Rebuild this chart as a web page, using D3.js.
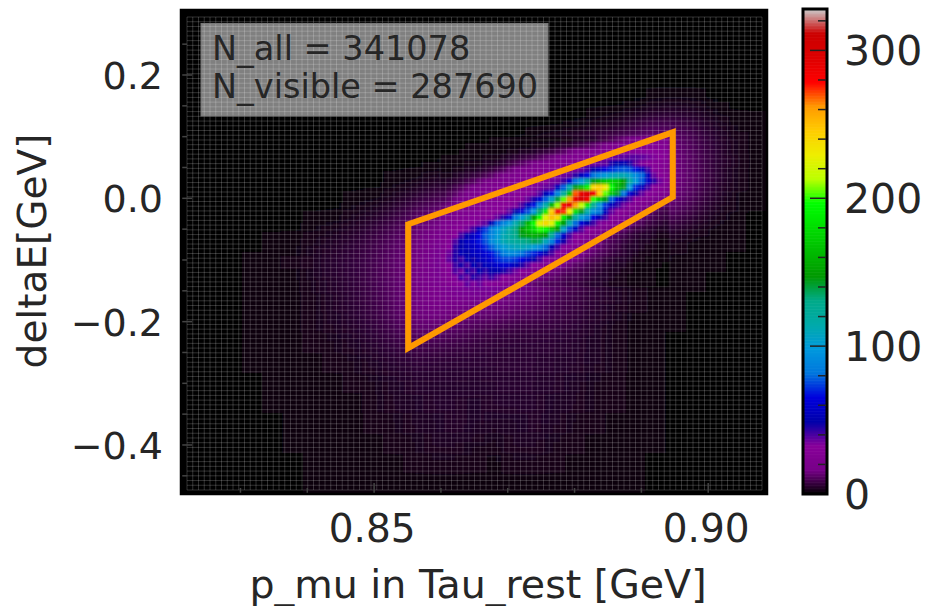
<!DOCTYPE html>
<html><head><meta charset="utf-8">
<style>html,body{margin:0;padding:0;background:#fff}svg{display:block}text{font-family:"DejaVu Sans",sans-serif;fill:#262626}</style>
<script src="https://cdn.jsdelivr.net/npm/d3@7/dist/d3.min.js"></script>
</head><body><svg id="c" width="926" height="606"></svg>
<script>
const xTicks=[0.85,0.90], yTicks=[0.2,0,-0.2,-0.4], cbTicks=[0,100,200,300];
const xTickLabels=["0.85","0.90"], yTickLabels=["0.2","0.0","\u22120.2","\u22120.4"];
const xDomain=[0.8211,0.9088], yDomain=[-0.4795,0.3054], cbDomain=[0,328];
const statsLines=["N_all = 341078","N_visible = 287690"];
const regionX=[0.8551,0.8947,0.8947,0.8551];
const regionY=[-0.042,0.107,0.002,-0.243];
const nipyStops=[0,.05,.1,.15,.2,.25,.3,.35,.4,.45,.5,.55,.6,.65,.7,.75,.8,.85,.9,.95,1];
const nipyColors=["#000000","#770088","#880099","#0000aa","#0000dd","#0077dd","#0099dd","#00aaaa","#00aa88","#009900","#00bb00","#00dd00","#00ff00","#bbff00","#eeee00","#ffcc00","#ff9900","#ff0000","#dd0000","#cc0000","#cccccc"];
// wide histogram read on a coarse binning (counts)
const wideCounts=[
[0,0,0,0,0,0,0,0,0,0,0,0,0,0,0,0,0,0,0,0,0,0,0,0,0,0,0,0,0],
[0,0,0,0,0,0,0,0,0,0,0,0,0,0,0,0,0,0,0,0,0,0,0,0,0,0,0,0,0],
[0,0,0,0,0,0,0,0,0,0,0,0,0,0,0,0,0,0,0,0,0,0,0,0,0,0,0,0,0],
[0,0,0,0,0,0,0,0,0,0,0,0,0,0,0,0,0,0,0,0,0,0,0,0,0,0,0,0,0],
[0,0,0,0,0,0,0,0,0,0,0,0,0,0,0,0,0,0,0,0,0,0,0,1,1,1,0,0,0],
[0,0,0,0,0,0,0,0,0,0,0,0,0,0,0,0,0,0,0,0,1,2,3,5,6,5,3,2,1],
[0,0,0,0,0,0,0,0,0,0,0,0,0,0,0,0,0,1,2,3,5,8,12,16,14,9,5,3,1],
[0,0,0,0,0,0,0,0,0,0,0,0,0,1,2,3,4,6,10,14,20,28,35,28,15,10,6,3,2],
[0,0,0,0,0,0,0,0,0,0,1,2,3,4,6,9,14,20,30,35,45,60,50,30,16,10,5,3,1],
[0,0,0,0,0,0,0,0,1,2,3,5,8,11,16,22,30,50,90,200,100,50,30,20,14,8,4,2,1],
[0,0,0,0,0,0,1,2,3,5,7,12,17,22,35,65,110,180,120,45,25,18,12,7,5,3,2,1,0],
[0,0,0,0,1,2,3,4,6,8,11,15,19,32,58,85,115,85,40,24,15,9,6,4,3,2,1,1,0],
[0,0,0,1,2,3,4,6,7,9,12,16,21,40,50,60,70,30,20,15,9,5,3,2,2,1,1,0,0],
[0,0,0,1,1,2,3,5,6,9,12,16,20,28,36,30,22,15,10,8,6,4,3,2,1,1,0,0,0],
[0,0,0,1,1,2,3,4,6,8,11,16,20,22,22,20,15,12,10,8,6,4,3,2,1,0,0,0,0],
[0,0,0,1,1,2,3,4,5,7,9,14,15,13,10,8,7,7,7,6,4,3,2,1,1,0,0,0,0],
[0,0,0,1,1,2,3,3,4,5,7,9,8,7,7,6,6,6,6,5,4,3,2,1,0,0,0,0,0],
[0,0,0,1,1,2,2,3,3,4,5,6,6,6,6,6,6,6,5,5,4,3,2,1,0,0,0,0,0],
[0,0,0,0,1,1,2,2,3,3,4,5,5,5,5,5,6,5,5,4,3,3,2,1,0,0,0,0,0],
[0,0,0,0,1,1,2,2,2,3,4,4,5,5,4,5,5,5,4,4,3,3,2,1,0,0,0,0,0],
[0,0,0,0,0,1,1,2,2,3,3,4,4,5,5,4,4,5,4,3,3,2,1,1,0,0,0,0,0],
[0,0,0,0,0,1,1,2,2,2,3,3,4,4,3,3,4,4,3,3,2,2,1,1,0,0,0,0,0],
[0,0,0,0,0,0,1,1,2,2,2,3,3,3,3,2,3,3,3,2,2,1,1,0,0,0,0,0,0],
[0,0,0,0,0,0,1,1,1,1,2,2,2,2,2,2,2,2,2,2,1,1,1,0,0,0,0,0,0]];
// core of the histogram read on a finer binning (counts)
const coreX0=0.8599, coreXStep=0.0009, coreY0=0.1005, coreYStep=0.00973;
const coreCounts=[
[0,0,0,0,0,0,0,0,1,1,1,1,1,1,1,1,2,2,2,2,3,3,4,4,5,5,7,8,10,12,14,16,18,20,21,22,22,22],
[0,0,0,0,1,1,1,1,1,1,2,2,2,2,2,3,3,3,4,5,6,6,8,9,11,13,15,17,20,22,24,25,26,26,27,27,26,25],
[0,0,0,1,1,1,1,2,2,2,2,3,3,4,4,5,6,7,8,10,12,15,17,19,22,24,26,28,30,31,32,32,33,33,33,32,30,28],
[1,1,1,1,2,2,2,3,3,3,4,5,6,7,8,9,11,13,15,18,21,23,25,27,29,31,33,35,36,37,38,39,39,38,36,34,32,28],
[1,1,2,2,3,3,3,4,4,5,6,8,10,12,14,17,20,22,25,27,28,30,32,33,34,36,37,38,46,50,52,46,38,34,32,30,28,26],
[2,2,3,3,4,4,5,6,7,9,11,14,17,20,22,24,26,27,28,30,32,34,35,37,42,50,58,66,72,76,78,76,68,55,42,33,28,24],
[3,3,4,5,6,7,8,10,12,15,17,20,22,25,26,27,29,31,32,34,36,38,44,55,68,82,92,100,108,112,112,105,92,80,55,37,30,26],
[4,5,6,7,9,11,14,16,18,21,23,25,27,28,30,31,32,33,35,36,42,60,82,100,125,145,160,170,175,170,150,120,100,78,58,44,36,28],
[6,7,9,11,14,17,19,22,24,26,28,29,31,32,33,34,35,37,38,55,78,115,145,165,190,240,245,230,195,165,145,100,70,55,42,33,28,24],
[8,10,12,15,18,21,23,25,27,28,29,30,31,32,33,34,39,52,68,88,120,165,270,290,295,285,245,205,170,142,82,60,48,38,31,27,23,20],
[10,12,15,18,21,23,25,27,28,29,30,31,31,32,37,46,60,78,105,140,205,260,290,300,285,200,170,145,78,60,47,40,33,28,24,21,18,15],
[13,15,18,21,23,25,27,29,30,31,32,33,34,40,53,68,85,115,160,210,285,290,260,215,185,125,95,72,55,44,36,30,26,22,18,15,13,11],
[15,18,20,22,24,27,29,30,31,32,33,38,50,62,75,95,135,185,245,285,275,230,180,145,115,92,82,55,38,32,27,22,19,16,13,11,9,8],
[17,20,22,24,27,29,30,32,33,37,45,60,82,100,120,150,195,225,250,240,190,150,120,100,85,65,52,42,33,27,23,19,16,13,11,9,8,7],
[19,21,24,27,30,33,35,38,52,78,88,100,115,135,160,195,225,240,225,190,150,115,80,62,50,42,34,28,24,20,17,14,12,10,8,7,6,5],
[20,23,27,30,35,42,55,72,85,98,108,118,132,150,165,180,200,195,170,148,105,75,55,40,32,27,23,19,16,14,12,10,8,7,6,5,4,4],
[21,24,32,42,50,57,66,78,88,100,112,120,130,145,152,158,155,148,125,80,58,41,33,28,24,20,17,14,12,10,9,7,6,5,5,4,3,3],
[22,28,40,50,56,60,68,76,90,102,112,118,122,128,132,138,135,110,88,70,48,36,30,25,21,18,15,12,10,9,7,6,5,4,4,3,2,2],
[23,33,44,50,54,57,62,70,78,90,100,106,110,112,108,100,92,80,52,42,33,28,24,21,18,15,13,11,9,8,6,5,5,4,3,3,2,1],
[24,36,45,52,50,56,58,62,68,76,86,92,90,82,76,70,62,52,41,33,28,24,21,18,15,13,11,10,8,7,6,5,4,3,3,2,1,1],
[25,38,46,42,52,48,55,58,62,70,74,75,72,66,58,50,42,34,28,24,21,18,16,14,12,10,9,7,6,5,5,4,3,3,2,1,1,1],
[25,33,42,47,40,52,46,54,56,60,62,60,54,46,39,33,28,24,21,18,16,14,12,11,9,8,7,6,5,4,4,3,2,2,1,1,1,0],
[24,30,40,36,46,41,50,44,50,50,47,42,36,31,27,24,21,17,15,14,12,11,10,9,8,7,6,5,4,4,3,3,2,2,1,1,0,0],
[23,27,34,42,37,45,42,38,43,38,32,28,25,22,20,18,15,14,13,12,10,9,9,8,7,6,5,5,4,3,3,2,2,1,1,1,0,0],
[22,25,28,30,38,34,37,30,29,27,24,22,19,17,15,13,12,11,10,10,9,8,8,7,6,5,5,4,3,3,3,2,2,1,1,1,0,0]];

const P={l:181,r:767,t:10,b:494};
const x=d3.scaleLinear().domain(xDomain).range([P.l,P.r]);
const y=d3.scaleLinear().domain(yDomain).range([P.b,P.t]);
const cb=d3.scaleLinear().domain(cbDomain).range([494,9]);
const color=d3.scaleLinear().domain(nipyStops.map(s=>s*cbDomain[1])).range(nipyColors).clamp(true);
const svg=d3.select("#c");
const defs=svg.append("defs");
defs.append("clipPath").attr("id","plot").append("rect").attr("x",P.l).attr("y",P.t).attr("width",P.r-P.l).attr("height",P.b-P.t);
const blurA=defs.append("filter").attr("id","bA").attr("x","-20%").attr("y","-20%").attr("width","140%").attr("height","140%");
blurA.append("feGaussianBlur").attr("stdDeviation",13);
const blurB=defs.append("filter").attr("id","bB").attr("x","-5%").attr("y","-5%").attr("width","110%").attr("height","110%");
blurB.append("feGaussianBlur").attr("stdDeviation",0.8);

const plot=svg.append("g").attr("clip-path","url(#plot)");
plot.append("rect").attr("x",P.l).attr("y",P.t).attr("width",P.r-P.l).attr("height",P.b-P.t).attr("fill","#000");
const wx=(xDomain[1]-xDomain[0])/wideCounts[0].length, wy=(yDomain[1]-yDomain[0])/wideCounts.length;
const wideCells=wideCounts.flatMap((row,j)=>row.map((v,i)=>({v,i,j})));
plot.append("g").attr("filter","url(#bA)").selectAll("rect").data(wideCells).join("rect")
 .attr("x",d=>x(xDomain[0]+d.i*wx)).attr("y",d=>y(yDomain[1]-d.j*wy))
 .attr("width",x(xDomain[0]+wx)-x(xDomain[0])+.5).attr("height",y(yDomain[1]-wy)-y(yDomain[1])+.5)
 .attr("fill",d=>color(d.v));
const coreCells=coreCounts.flatMap((row,j)=>row.map((v,i)=>({v,i,j})));
plot.append("g").attr("filter","url(#bB)").selectAll("rect").data(coreCells).join("rect")
 .attr("x",d=>x(coreX0+d.i*coreXStep)).attr("y",d=>y(coreY0-d.j*coreYStep))
 .attr("width",x(coreX0+coreXStep)-x(coreX0)+.4).attr("height",y(coreY0-coreYStep)-y(coreY0)+.4)
 .attr("fill",d=>color(d.v));

// bin-edge lines of the pcolormesh
const nEdges=100;
const gx0=x.invert(P.l+6), gx1=x.invert(P.r-5), gy0=y.invert(P.b-4), gy1=y.invert(P.t+7);
const gridG=plot.append("g").attr("stroke","#fff").attr("stroke-opacity",.19).attr("stroke-width",1);
d3.range(nEdges+1).forEach(k=>{
  const vx=gx0+(gx1-gx0)*k/nEdges, vy=gy0+(gy1-gy0)*k/nEdges;
  gridG.append("line").attr("x1",x(vx)).attr("x2",x(vx)).attr("y1",y(gy0)).attr("y2",y(gy1));
  gridG.append("line").attr("y1",y(vy)).attr("y2",y(vy)).attr("x1",x(gx0)).attr("x2",x(gx1));
});

// ticks inside the frame
const tg=plot.append("g").attr("stroke","#444").attr("stroke-width",1.5);
d3.range(0.83,0.905,0.01).forEach(v=>tg.append("line").attr("x1",x(v)).attr("x2",x(v)).attr("y1",P.b).attr("y2",P.b-(Math.abs(v*20-Math.round(v*20))<1e-6?11:6)));
d3.range(-0.45,0.30,0.05).forEach(v=>tg.append("line").attr("y1",y(v)).attr("y2",y(v)).attr("x1",P.l).attr("x2",P.l+(Math.abs(v*5-Math.round(v*5))<1e-6?11:6)));

// stats box
plot.append("rect").attr("x",201).attr("y",23.5).attr("width",347).attr("height",92.5)
 .attr("fill","#fff").attr("fill-opacity",.5).attr("stroke","#777").attr("stroke-width",1);
svg.append("g").selectAll("text").data(statsLines).join("text")
 .attr("x",212).attr("y",(d,i)=>60+i*38).attr("font-size",33.5).text(d=>d);

// selection region
svg.append("path").datum(regionX.map((v,i)=>[x(v),y(regionY[i])]))
 .attr("d",d3.line().curve(d3.curveLinearClosed)).attr("fill","none")
 .attr("stroke","#ff9900").attr("stroke-width",6).attr("stroke-linejoin","miter");

// frame
svg.append("rect").attr("x",P.l).attr("y",P.t).attr("width",P.r-P.l).attr("height",P.b-P.t).attr("fill","none").attr("stroke","#000").attr("stroke-width",2.5);

// axes
svg.append("g").selectAll("text").data(xTicks).join("text").attr("x",d=>x(d)-2).attr("y",542).attr("text-anchor","middle").attr("font-size",39).text((d,i)=>xTickLabels[i]);
svg.append("g").selectAll("text").data(yTicks).join("text").attr("x",163).attr("y",d=>y(d)+14).attr("text-anchor","end").attr("font-size",38).text((d,i)=>yTickLabels[i]);
svg.append("text").attr("x",478).attr("y",598).attr("text-anchor","middle").attr("font-size",39.5).text("p_mu in Tau_rest [GeV]");
svg.append("text").attr("transform","translate(46,251) rotate(-90)").attr("text-anchor","middle").attr("font-size",39).text("deltaE[GeV]");

// colour bar
const cbg=svg.append("g");
cbg.selectAll("rect").data(d3.range(cbDomain[0],cbDomain[1],1)).join("rect")
 .attr("x",803).attr("width",24).attr("y",d=>cb(d+1)).attr("height",cb(0)-cb(1)+.6).attr("fill",d=>color(d+.5));
cbg.append("rect").attr("x",803).attr("y",cb(cbDomain[1])).attr("width",24).attr("height",cb(0)-cb(cbDomain[1])).attr("fill","none").attr("stroke","#000").attr("stroke-width",3);
d3.range(20,321,20).forEach(v=>{const maj=v%100===0;
 cbg.append("line").attr("x1",maj?810:818).attr("x2",826).attr("y1",cb(v)).attr("y2",cb(v)).attr("stroke","#222").attr("stroke-width",1.5);});
svg.append("g").selectAll("text").data(cbTicks).join("text").attr("x",844).attr("y",d=>cb(d)+15).attr("font-size",41).text(d=>d);
</script></body></html>
